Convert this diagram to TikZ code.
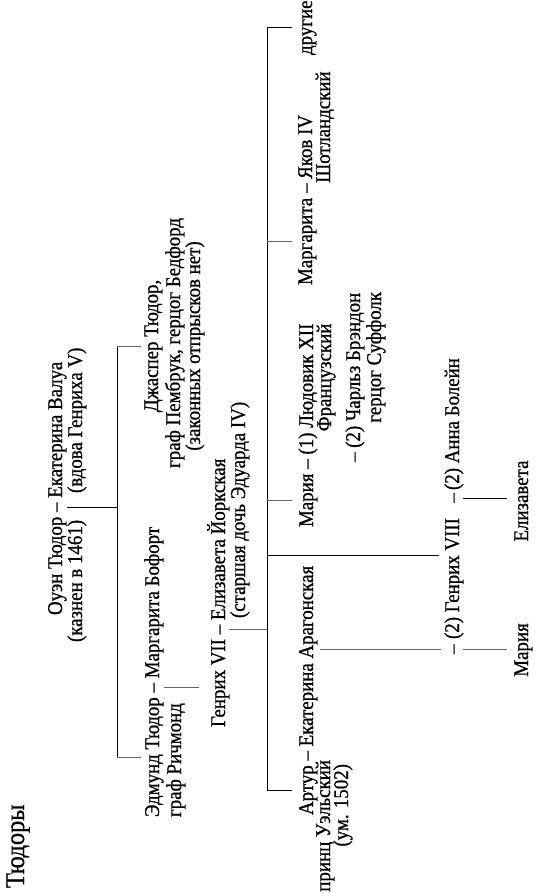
\documentclass[tikz,border=0pt]{standalone}
\usepackage{fontspec}
\setmainfont{Liberation Serif}[FakeStretch=0.9, FakeBold=0.8]
\usetikzlibrary{calc}
\tikzset{
  lbl/.style={rotate=90, inner sep=0pt, outer sep=0pt, anchor=base west,
              font=\fontsize{21}{23}\selectfont},
  conn/.style={draw=black, line width=0.7pt},
  conng/.style={draw=black!60, line width=0.9pt},
}
\begin{document}
\begin{tikzpicture}[x=1pt,y=1pt]
\fill[white] (0,0) rectangle (536,-893);
\useasboundingbox (0,0) rectangle (536,-893);

% reference columns for bars and tick ends
\coordinate (xA) at (117,0);
\coordinate (xAt) at (141,0);
\coordinate (xB) at (267,0);
\coordinate (xBt) at (292,0);
\coordinate (jh8) at (267,-555);

% title
\node[lbl, font=\fontsize{27}{29}\selectfont] (title) at (24,-888) {Тюдоры};

% Owen Tudor -- Catherine of Valois
\node[lbl] (o1) at (62,-615) {Оуэн Тюдор};
\node[lbl] (od) at ($(o1.base east)+(0,4.75)$) {–};
\node[lbl] (o2) at ($(od.base east)+(0,4.75)$) {Екатерина Валуа};
\node[lbl] (o1n) at (82,-642) {(казнен в 1461)};
\node[lbl] (o2n) at (82,-493) {(вдова Генриха V)};

% Edmund Tudor -- Margaret Beaufort
\node[lbl] (e1) at (159,-817) {Эдмунд Тюдор};
\node[lbl] (ed) at ($(e1.base east)+(0,4.75)$) {–};
\node[lbl] (e2) at ($(ed.base east)+(0,4.75)$) {Маргарита Бофорт};
\node[lbl] (e1n) at (181,-817) {граф Ричмонд};

% Jasper Tudor
\node[lbl, anchor=base] (j1) at (158,-346) {Джаспер Тюдор,};
\node[lbl, anchor=base] (j2) at (180,-343) {граф Пембрук, герцог Бедфорд};
\node[lbl, anchor=base] (j3) at (200,-346) {(законных отпрысков нет)};

% Henry VII -- Elizabeth of York
\node[lbl] (h7) at (225,-727) {Генрих VII};
\node[lbl] (h7d) at ($(h7.base east)+(0,4.75)$) {–};
\node[lbl] (ey) at ($(h7d.base east)+(0,4.75)$) {Елизавета Йоркская};
\node[lbl] (eyn) at (245,-618) {(старшая дочь Эдуарда IV)};

% Arthur -- Catherine of Aragon
\node[lbl] (ar1) at (313,-815) {Артур};
\node[lbl] (ard) at ($(ar1.base east)+(0,4.75)$) {–};
\node[lbl] (ar2) at ($(ard.base east)+(0,4.75)$) {Екатерина Арагонская};
\node[lbl, anchor=base east] (ar1n) at (330,-760) {принц Уэльский};
\node[lbl, anchor=base east] (ar1m) at (348,-764) {(ум. 1502)};

% Mary -- Louis XII / Charles Brandon
\node[lbl] (m1) at (313,-527) {Мария};
\node[lbl] (md) at ($(m1.base east)+(0,4.75)$) {–};
\node[lbl] (m2) at ($(md.base east)+(0,4.75)$) {(1) Людовик XII};
\node[lbl, anchor=base east] (m2n) at ($(m2.base east)+(18,0)$) {Французский};
\node[lbl] (m3) at (360,-462) {– (2) Чарльз Брэндон};
\node[lbl, anchor=base east] (m3n) at (381,-292) {герцог Суффолк};

% Margaret -- James IV
\node[lbl] (g1) at (312,-285) {Маргарита};
\node[lbl] (gd) at ($(g1.base east)+(0,4.75)$) {–};
\node[lbl] (g2) at ($(gd.base east)+(0,4.75)$) {Яков IV};
\node[lbl] (g2n) at ($(g2.base west)+(18,-4)$) {Шотландский};

% others
\node[lbl] (oth) at (312,-55) {другие};

% Henry VIII line
\node[lbl] (d8a) at (459,-654) {–};
\node[lbl] (h8) at (459,-639) {(2) Генрих VIII};
\node[lbl, anchor=base] (d8b) at (459,-498) {–};
\node[lbl] (anne) at (459,-490) {(2) Анна Болейн};

% daughters of Henry VIII
\node[lbl, anchor=base] (dm) at (528,-650) {Мария};
\node[lbl, anchor=base] (el) at (528,-501) {Елизавета};

% ---- connectors ----
% Owen & Catherine -> children bar
\draw[conn] (o1.south |- od.center) -- (xA |- od.center);
\draw[conn] (xA |- j1.center) -- (xA |- e1.center);
\draw[conng] (xA |- j1.center) -- (xAt |- j1.center);
\draw[conng] (xA |- e1.center) -- (xAt |- e1.center);

% Edmund & Margaret -> Henry VII
\draw[conng, shorten >=12pt] (e1.south |- ed.center) -- (h7.north |- ed.center);

% Henry VII & Elizabeth -> children bar
\draw[conng] (h7.south |- h7d.center) -- (xB |- h7d.center);
\draw[conn] (xB |- oth.center) -- (xB |- ar1.center);
\draw[conn] (xB |- ar1.center) -- (xBt |- ar1.center);
\draw[conng] (xB |- m1.center) -- (xBt |- m1.center);
\draw[conng] (xB |- g1.center) -- (xBt |- g1.center);
\draw[conn] (xB |- oth.center) -- (xBt |- oth.center);
\draw[conn, shorten >=5pt] (jh8) -- (h8.north |- jh8);

% Catherine of Aragon -> (2) Henry VIII -> Mary
\draw[conng, shorten <=3pt, shorten >=3pt] (ar2.south |- d8a.center) -- (h8.north |- d8a.center);
\draw[conng, shorten >=7pt] (h8.south |- d8a.center) -- (dm.north |- d8a.center);

% Henry VIII & Anne Boleyn -> Elizabeth
\draw[conn, shorten >=7pt] (h8.south |- d8b.center) -- (el.north |- d8b.center);
\end{tikzpicture}
\end{document}
